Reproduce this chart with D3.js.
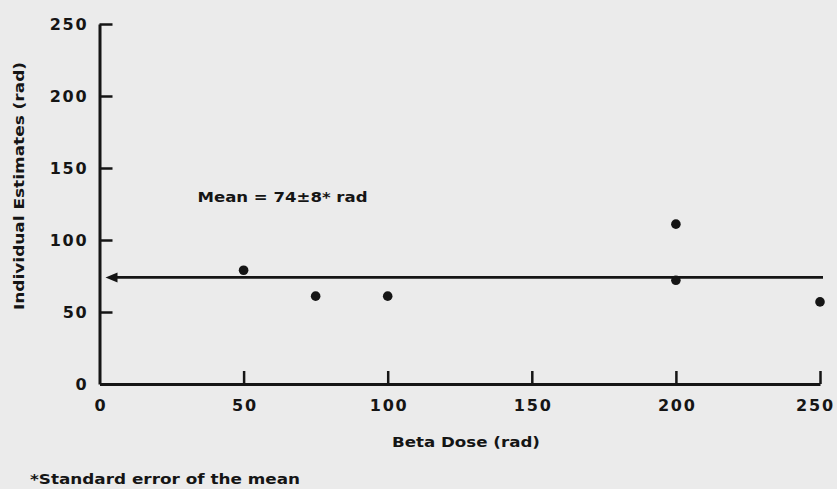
<!DOCTYPE html>
<html>
<head>
<meta charset="utf-8">
<script src="https://cdn.jsdelivr.net/npm/d3@7"></script>
<style>
  html, body { margin: 0; padding: 0; background: #ebebeb; }
  svg { display: block; }
  text { font-family: "DejaVu Sans", sans-serif; font-weight: bold; fill: #151515; }
</style>
</head>
<body>
<svg id="chart" width="837" height="489"></svg>
<script>
// Beta dose given (rad) and the individual estimate obtained for each (rad)
const doses = [50, 75, 100, 200, 200, 250];
const estimates = [79, 61, 61, 111, 72, 57];

const xTicks = [0, 50, 100, 150, 200, 250];
const yTicks = [0, 50, 100, 150, 200, 250];

const meanValue = 74;
const meanError = 8;

const svg = d3.select("#chart");
const ink = "#151515";

const x = d3.scaleLinear().domain([0, 250]).range([99.5, 820]);
const y = d3.scaleLinear().domain([0, 250]).range([384, 24]);

// Y axis: ticks point into the plot
const yAxis = svg.append("g")
  .attr("transform", `translate(${x(0)},0)`)
  .call(d3.axisLeft(y).tickValues(yTicks).tickSizeInner(-13).tickSizeOuter(0).tickPadding(11));
yAxis.select(".domain").attr("stroke", ink).attr("stroke-width", 3);
yAxis.selectAll(".tick line").attr("stroke", ink).attr("stroke-width", 2.5);
yAxis.selectAll(".tick").filter(d => d === 0).select("line").remove();
yAxis.selectAll(".tick text")
  .style("font-size", "16px").style("font-family", "DejaVu Sans, sans-serif")
  .attr("fill", ink).attr("letter-spacing", "1.8");

// X axis: ticks point up into the plot
const xAxis = svg.append("g")
  .attr("transform", `translate(0,${y(0)})`)
  .call(d3.axisBottom(x).tickValues(xTicks).tickSizeInner(-13).tickSizeOuter(0).tickPadding(16));
xAxis.select(".domain").attr("stroke", ink).attr("stroke-width", 3);
xAxis.selectAll(".tick line").attr("stroke", ink).attr("stroke-width", 2.5);
xAxis.selectAll(".tick").filter(d => d === 0).select("line").remove();
xAxis.selectAll(".tick text")
  .style("font-size", "16px").style("font-family", "DejaVu Sans, sans-serif")
  .attr("fill", ink).attr("letter-spacing", "1.8")
  .attr("dx", d => d === 250 ? "-5" : "0.9");

// Mean line, ending in an arrowhead that points at the y axis
const yMean = y(meanValue);
const tipX = x(0) + 6;
svg.append("line")
  .attr("x1", x(250) + 3).attr("x2", tipX + 8)
  .attr("y1", yMean).attr("y2", yMean)
  .attr("stroke", ink).attr("stroke-width", 2.8);
svg.append("path")
  .attr("d", d3.line()([[tipX, yMean], [tipX + 12, yMean - 5], [tipX + 12, yMean + 5]]) + "Z")
  .attr("fill", ink);

svg.append("text")
  .attr("x", x(34)).attr("y", y(129))
  .attr("dominant-baseline", "middle")
  .style("font-size", "14px")
  .attr("textLength", 170).attr("lengthAdjust", "spacingAndGlyphs")
  .text(`Mean = ${meanValue}\u00B1${meanError}* rad`);

// Individual estimates
svg.append("g").selectAll("circle")
  .data(doses.map((d, i) => ({ dose: d, est: estimates[i] })))
  .join("circle")
  .attr("cx", d => x(d.dose))
  .attr("cy", d => y(d.est))
  .attr("r", 4.8)
  .attr("fill", ink);

// Axis titles
svg.append("text")
  .attr("x", 466).attr("y", 443)
  .attr("text-anchor", "middle").attr("dominant-baseline", "middle")
  .style("font-size", "14px")
  .attr("textLength", 148).attr("lengthAdjust", "spacingAndGlyphs")
  .text("Beta Dose (rad)");

svg.append("text")
  .attr("transform", "translate(20,186) rotate(-90)")
  .attr("text-anchor", "middle").attr("dominant-baseline", "middle")
  .style("font-size", "13.5px")
  .attr("textLength", 248).attr("lengthAdjust", "spacingAndGlyphs")
  .text("Individual Estimates (rad)");

// Footnote
svg.append("text")
  .attr("x", 30).attr("y", 480)
  .attr("dominant-baseline", "middle")
  .style("font-size", "14px")
  .attr("textLength", 270).attr("lengthAdjust", "spacingAndGlyphs")
  .text("*Standard error of the mean");
</script>
</body>
</html>
